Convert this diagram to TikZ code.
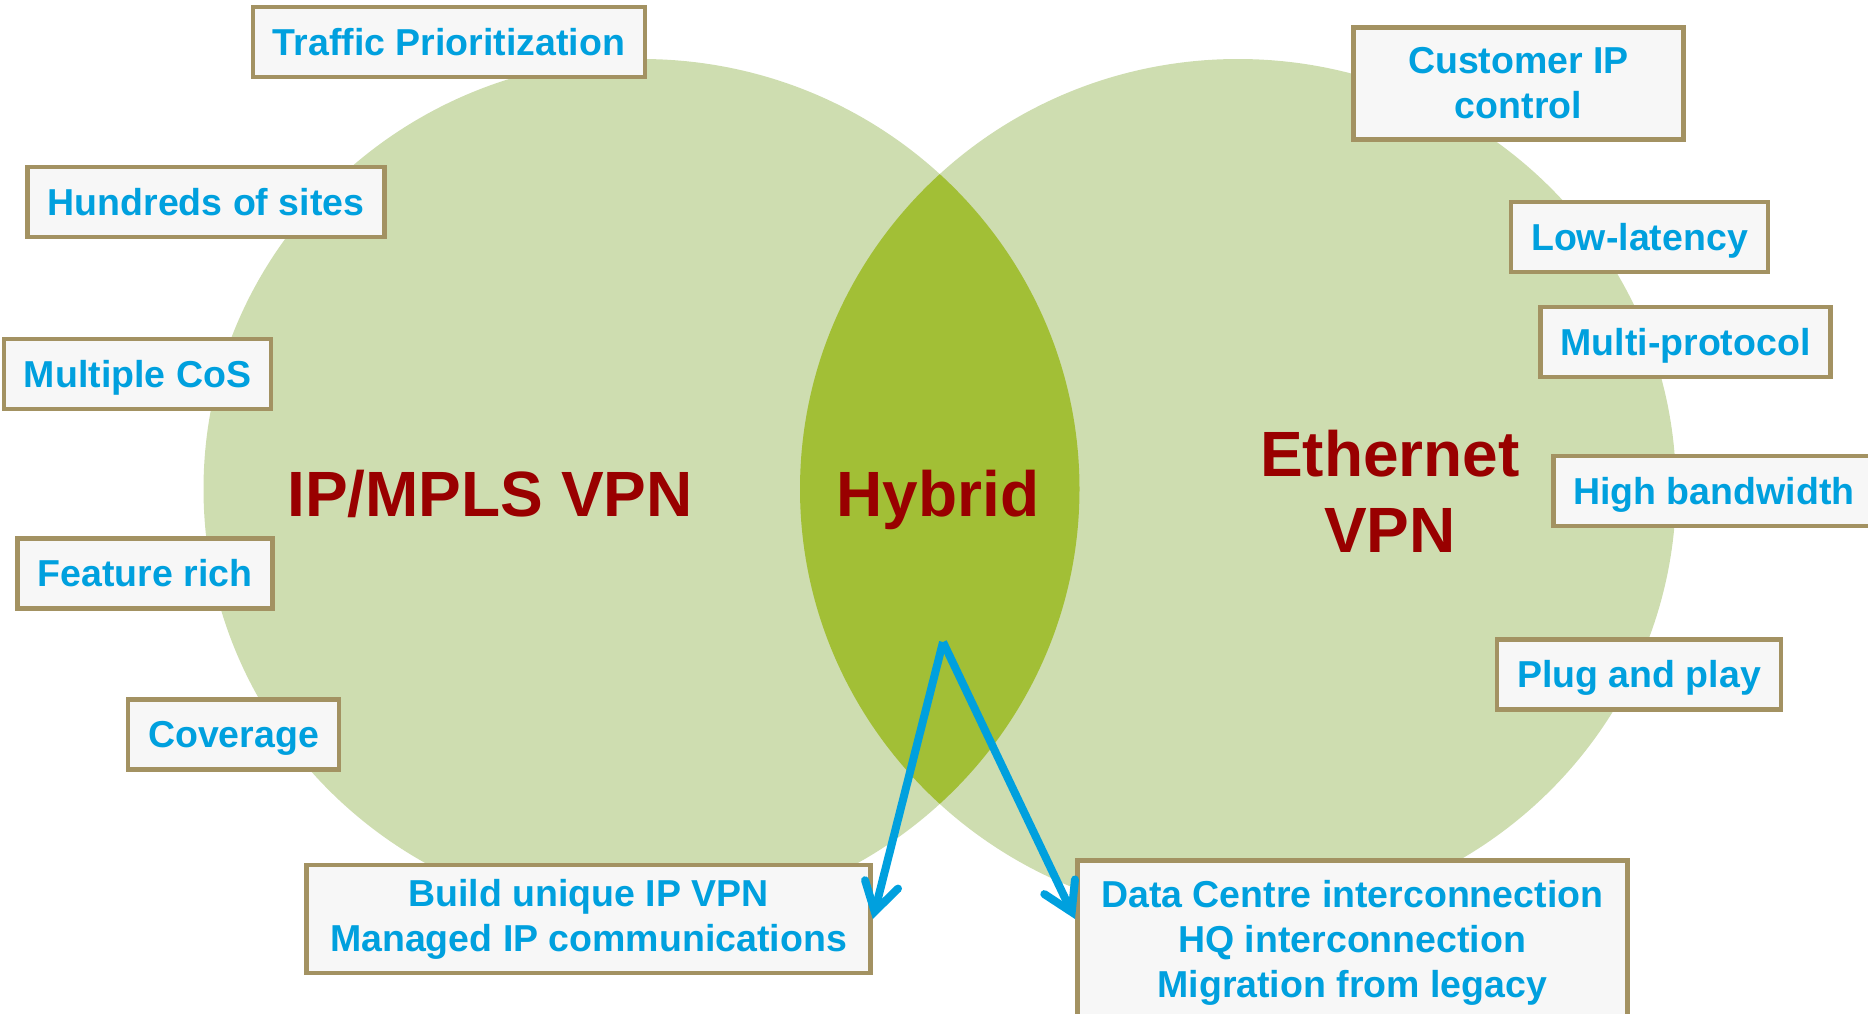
\documentclass[tikz,border=0pt]{standalone}
\usepackage{fontspec}
\setmainfont{Liberation Sans}
\usetikzlibrary{arrows.meta}

\definecolor{circlegreen}{RGB}{206,221,176}
\definecolor{lensgreen}{RGB}{162,191,54}
\definecolor{labelred}{RGB}{153,0,0}
\definecolor{featblue}{RGB}{0,160,222}
\definecolor{boxline}{RGB}{163,146,98}
\definecolor{boxfill}{RGB}{247,247,247}

\begin{document}
\begin{tikzpicture}[x=1pt,y=-1pt,
    feat/.style={draw=boxline, line width=4.5pt, fill=boxfill, text=featblue,
        font=\fontsize{37.5}{45}\selectfont\bfseries, inner xsep=20pt, inner ysep=20pt},
    one/.style={feat, minimum height=66pt, text height=28pt, text depth=2pt},
    two/.style={feat, align=center},
    big/.style={text=labelred, font=\fontsize{64}{76}\selectfont\bfseries, align=center},
    link/.style={featblue, line width=8pt, -{Straight Barb[length=28pt,width=34pt,line cap=round]}}]

    \clip (0,0) rectangle (1868,1013);

    \fill[circlegreen] (641.5,489) ellipse [x radius=438pt, y radius=430pt];
    \fill[circlegreen] (1238,489) ellipse [x radius=438pt, y radius=430pt];
    \begin{scope}
        \clip (641.5,489) ellipse [x radius=438pt, y radius=430pt];
        \fill[lensgreen] (1238,489) ellipse [x radius=438pt, y radius=430pt];
    \end{scope}

    \node[big, anchor=base] (ipmpls) at (490,516) {IP/MPLS VPN};
    \node[big, anchor=base] (hybrid) at (938,516) {Hybrid};
    \node[big] (ethernet) at (1390,491) {Ethernet\\VPN};

    \node[one] (traffic)  at (449,42)      {Traffic Prioritization};
    \node[one] (sites)    at (206,202)     {Hundreds of sites};
    \node[one] (cos)      at (137.5,374)   {Multiple CoS};
    \node[one] (rich)     at (145,573.5)   {Feature rich};
    \node[one] (coverage) at (233.5,734.5) {Coverage};
    \node[two, inner ysep=14pt, minimum width=564pt, minimum height=108pt] (build) at (588.5,919)
        {Build unique IP VPN\\Managed IP communications};

    \node[two, minimum width=330pt, minimum height=112pt] (custip) at (1518.5,83.5)
        {Customer IP\\control};
    \node[one] (latency)  at (1639.5,237)  {Low-latency};
    \node[one] (protocol) at (1685.5,342)  {Multi-protocol};
    \node[one, anchor=west] (bandwidth) at (1551,491) {High bandwidth};
    \node[one] (plug)     at (1639,674.5)  {Plug and play};
    \node[two, anchor=north west, minimum width=550pt] (dc) at (1075,858)
        {Data Centre interconnection\\HQ interconnection\\Migration from legacy};

    \coordinate (fork) at (943,642);
    \draw[link] (fork) -- (build.east);
    \draw[link] (fork) -- (build.east -| dc.west);

\end{tikzpicture}
\end{document}
